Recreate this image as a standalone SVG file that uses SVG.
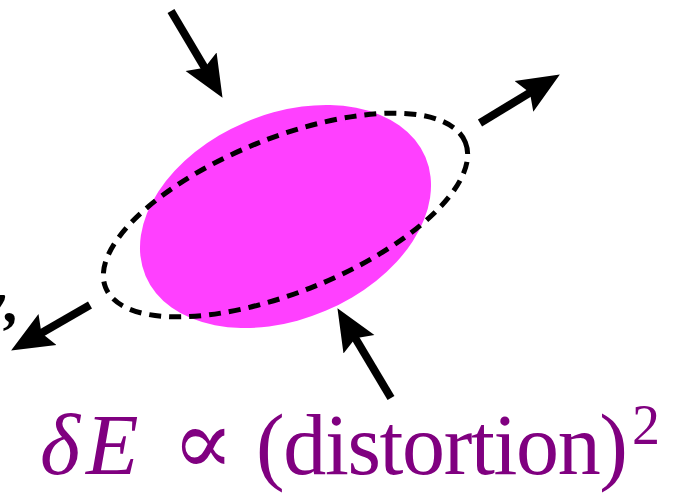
<svg xmlns="http://www.w3.org/2000/svg" width="675" height="497" viewBox="0 0 675 497">
<style>
.arrow{stroke:#000;stroke-width:8;fill:none;marker-end:url(#head)}
.lbl{font-family:"Liberation Serif","DejaVu Serif",serif;fill:#800080}
</style>
<defs>
<marker id="head" markerUnits="userSpaceOnUse" viewBox="0 0 42 38" refX="21" refY="19" markerWidth="42" markerHeight="38" orient="auto">
<path d="M0,1 L42,19 L0,37 L7,19 Z" fill="#000"/>
</marker>
</defs>
<rect width="675" height="497" fill="#fff"/>
<g id="blob">
<ellipse cx="285.5" cy="216.5" rx="152" ry="102.5" transform="rotate(-23 285.5 216.5)" fill="#ff40ff"/>
</g>
<g id="distorted">
<ellipse cx="285.5" cy="215" rx="194" ry="77" transform="rotate(-22 285.5 215)" fill="none" stroke="#000" stroke-width="5" stroke-dasharray="12 8"/>
</g>
<g id="connectors">
<line class="arrow" x1="171" y1="11" x2="211.8" y2="79.8"/>
<line class="arrow" x1="480" y1="123" x2="541.9" y2="85.4"/>
<line class="arrow" x1="90" y1="305" x2="29.3" y2="340"/>
<line class="arrow" x1="391" y1="398" x2="348.2" y2="326.2"/>
</g>
<g id="edge-glyph">
<text x="-22" y="322" font-family="Liberation Serif, serif" font-size="60" font-weight="bold" font-style="italic" fill="#000">ν,</text>
</g>
<g id="label">
<text class="lbl" y="474" font-size="86"><tspan x="40" font-style="italic">δ</tspan><tspan x="86" font-style="italic">E</tspan><tspan x="172" font-size="92" font-weight="300">∝</tspan><tspan x="256" textLength="372" lengthAdjust="spacing">(distortion)</tspan></text>
<text class="lbl" x="632" y="444" font-size="56">2</text>
</g>
</svg>
